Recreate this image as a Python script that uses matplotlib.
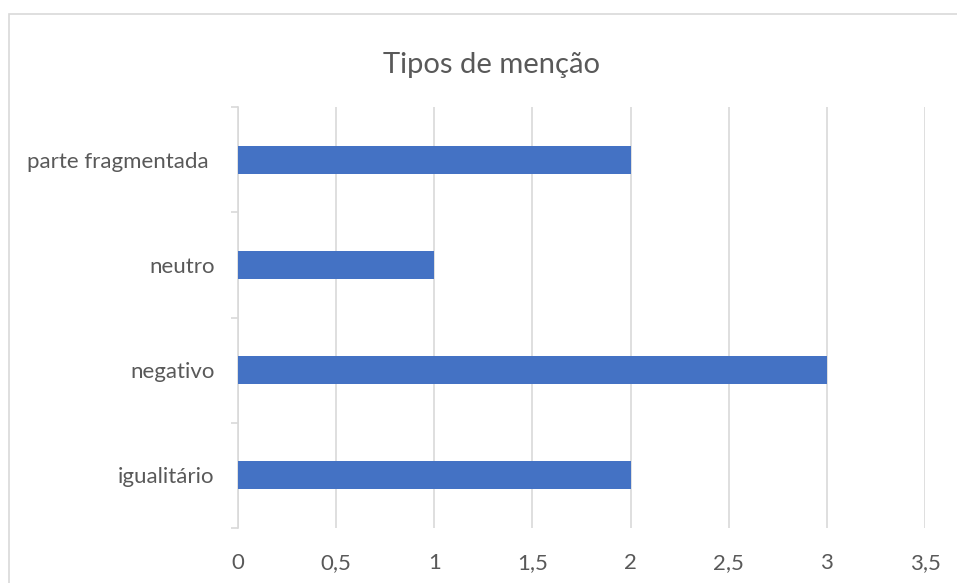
import matplotlib
matplotlib.use('Agg')
import matplotlib.pyplot as plt
from matplotlib.ticker import FuncFormatter, MultipleLocator, FixedLocator
from matplotlib.patches import Rectangle

# data
categories = ['igualitário', 'negativo', 'neutro', 'parte fragmentada ']
values = [2, 3, 1, 2]
title = 'Tipos de menção'

barColor = '#4472C4'
gridColor = '#d9d9d9'
textColor = '#595959'

plt.rcParams['font.family'] = ['Lato', 'DejaVu Sans']

fig = plt.figure(figsize=(9.57, 5.83), dpi=100)
W, H = 957, 583

# chart area border (right and bottom edges fall outside the picture)
fig.patches.append(Rectangle((9 / W, -0.1), 1.2, 1 - 14 / H + 0.1, transform=fig.transFigure,
                             fill=False, edgecolor=gridColor, linewidth=1.2))

ax = fig.add_axes([238 / W, 1 - 528 / H, 687 / W, 421 / H])
ypos = list(range(len(categories)))
ax.barh(ypos, values, height=0.266, color=barColor, zorder=3)

ax.set_xlim(0, 3.5)
ax.set_ylim(-0.5, len(categories) - 0.5)
ax.xaxis.set_major_locator(MultipleLocator(0.5))
ax.xaxis.set_major_formatter(FuncFormatter(lambda v, p: ('%g' % v).replace('.', ',')))
ax.grid(axis='x', color=gridColor, linewidth=1.2, zorder=0)

ax.set_yticks(ypos)
ax.set_yticklabels(categories)
ax.yaxis.set_minor_locator(FixedLocator([i - 0.5 for i in range(len(categories) + 1)]))

for s in ['top', 'right', 'bottom']:
    ax.spines[s].set_visible(False)
ax.spines['left'].set_color(gridColor)
ax.spines['left'].set_linewidth(1.2)

ax.tick_params(axis='x', length=0, pad=18, labelsize=16, labelcolor=textColor)
ax.tick_params(axis='y', which='major', length=0, pad=17, labelsize=16, labelcolor=textColor)
ax.tick_params(axis='y', which='minor', length=5, width=1.2, color=gridColor)

fig.text(491 / W, 1 - 65 / H, title, ha='center', va='center', fontsize=21,
         color=textColor)

fig.savefig('out.png', dpi=100)
